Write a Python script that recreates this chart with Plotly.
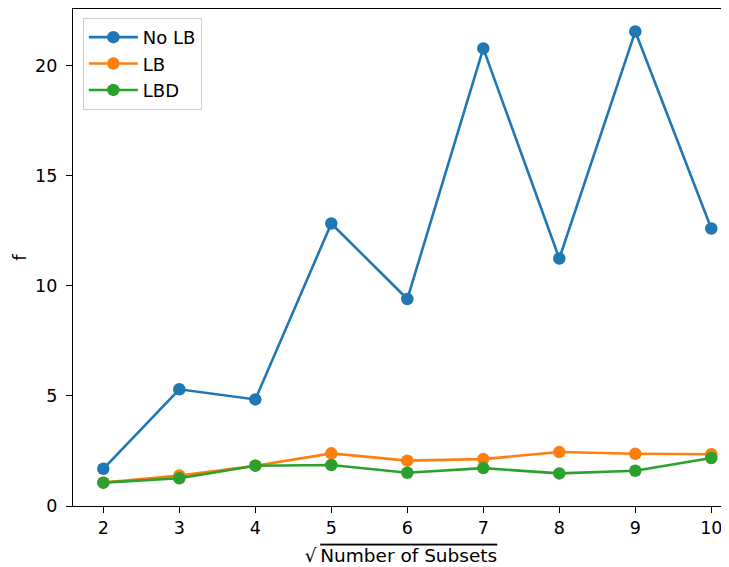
import plotly.graph_objects as go

x_vals = [2, 3, 4, 5, 6, 7, 8, 9, 10]
no_lb = [1.69, 5.30, 4.84, 12.83, 9.40, 20.78, 11.24, 21.55, 12.60]
lb = [1.06, 1.38, 1.83, 2.39, 2.06, 2.13, 2.45, 2.37, 2.35]
lbd = [1.06, 1.26, 1.83, 1.86, 1.51, 1.72, 1.48, 1.60, 2.18]
series_names = ["No LB", "LB", "LBD"]
colors = ["#1f77b4", "#ff7f0e", "#2ca02c"]
y_ticks = [0, 5, 10, 15, 20]

FONT = "DejaVu Sans"

fig = go.Figure()
for name, ys, c in zip(series_names, [no_lb, lb, lbd], colors):
    fig.add_trace(go.Scatter(
        x=x_vals, y=ys, name=name, mode="lines+markers",
        line=dict(color=c, width=2.6),
        marker=dict(color=c, size=12.5),
    ))

# page body has an 8px default margin, so the figure is offset by 8px
fig.update_layout(
    width=721, height=559,
    margin=dict(l=65, r=0, t=1, b=61, autoexpand=False),
    paper_bgcolor="white", plot_bgcolor="white",
    font=dict(family=FONT, size=17.5, color="black"),
    showlegend=True,
    legend=dict(
        x=0.015, y=0.982, xanchor="left", yanchor="top",
        bordercolor="#cccccc", borderwidth=1, bgcolor="rgba(255,255,255,0.8)",
        font=dict(size=18), tracegroupgap=0, itemwidth=49,
    ),
)
fig.update_xaxes(
    range=[1.601, 10.233], tickmode="array", tickvals=x_vals,
    ticks="outside", ticklen=6, tickwidth=1.4, tickcolor="black",
    showline=True, linecolor="black", linewidth=1.4, mirror=True,
    showgrid=False, zeroline=False, automargin=False,
    title=dict(text="√\u2009<span style=\"text-decoration:overline\">Number of Subsets</span>",
               font=dict(size=18.5), standoff=11),
)
fig.update_yaxes(
    range=[0, 22.57], tickmode="array", tickvals=y_ticks,
    ticks="outside", ticklen=6, tickwidth=1.4, tickcolor="black",
    showline=True, linecolor="black", linewidth=1.4, mirror=False,
    showgrid=False, zeroline=False, automargin=False, ticklabelstandoff=5,
    title=dict(text="f", font=dict(size=18), standoff=3),
)

fig.write_html("out.html")
